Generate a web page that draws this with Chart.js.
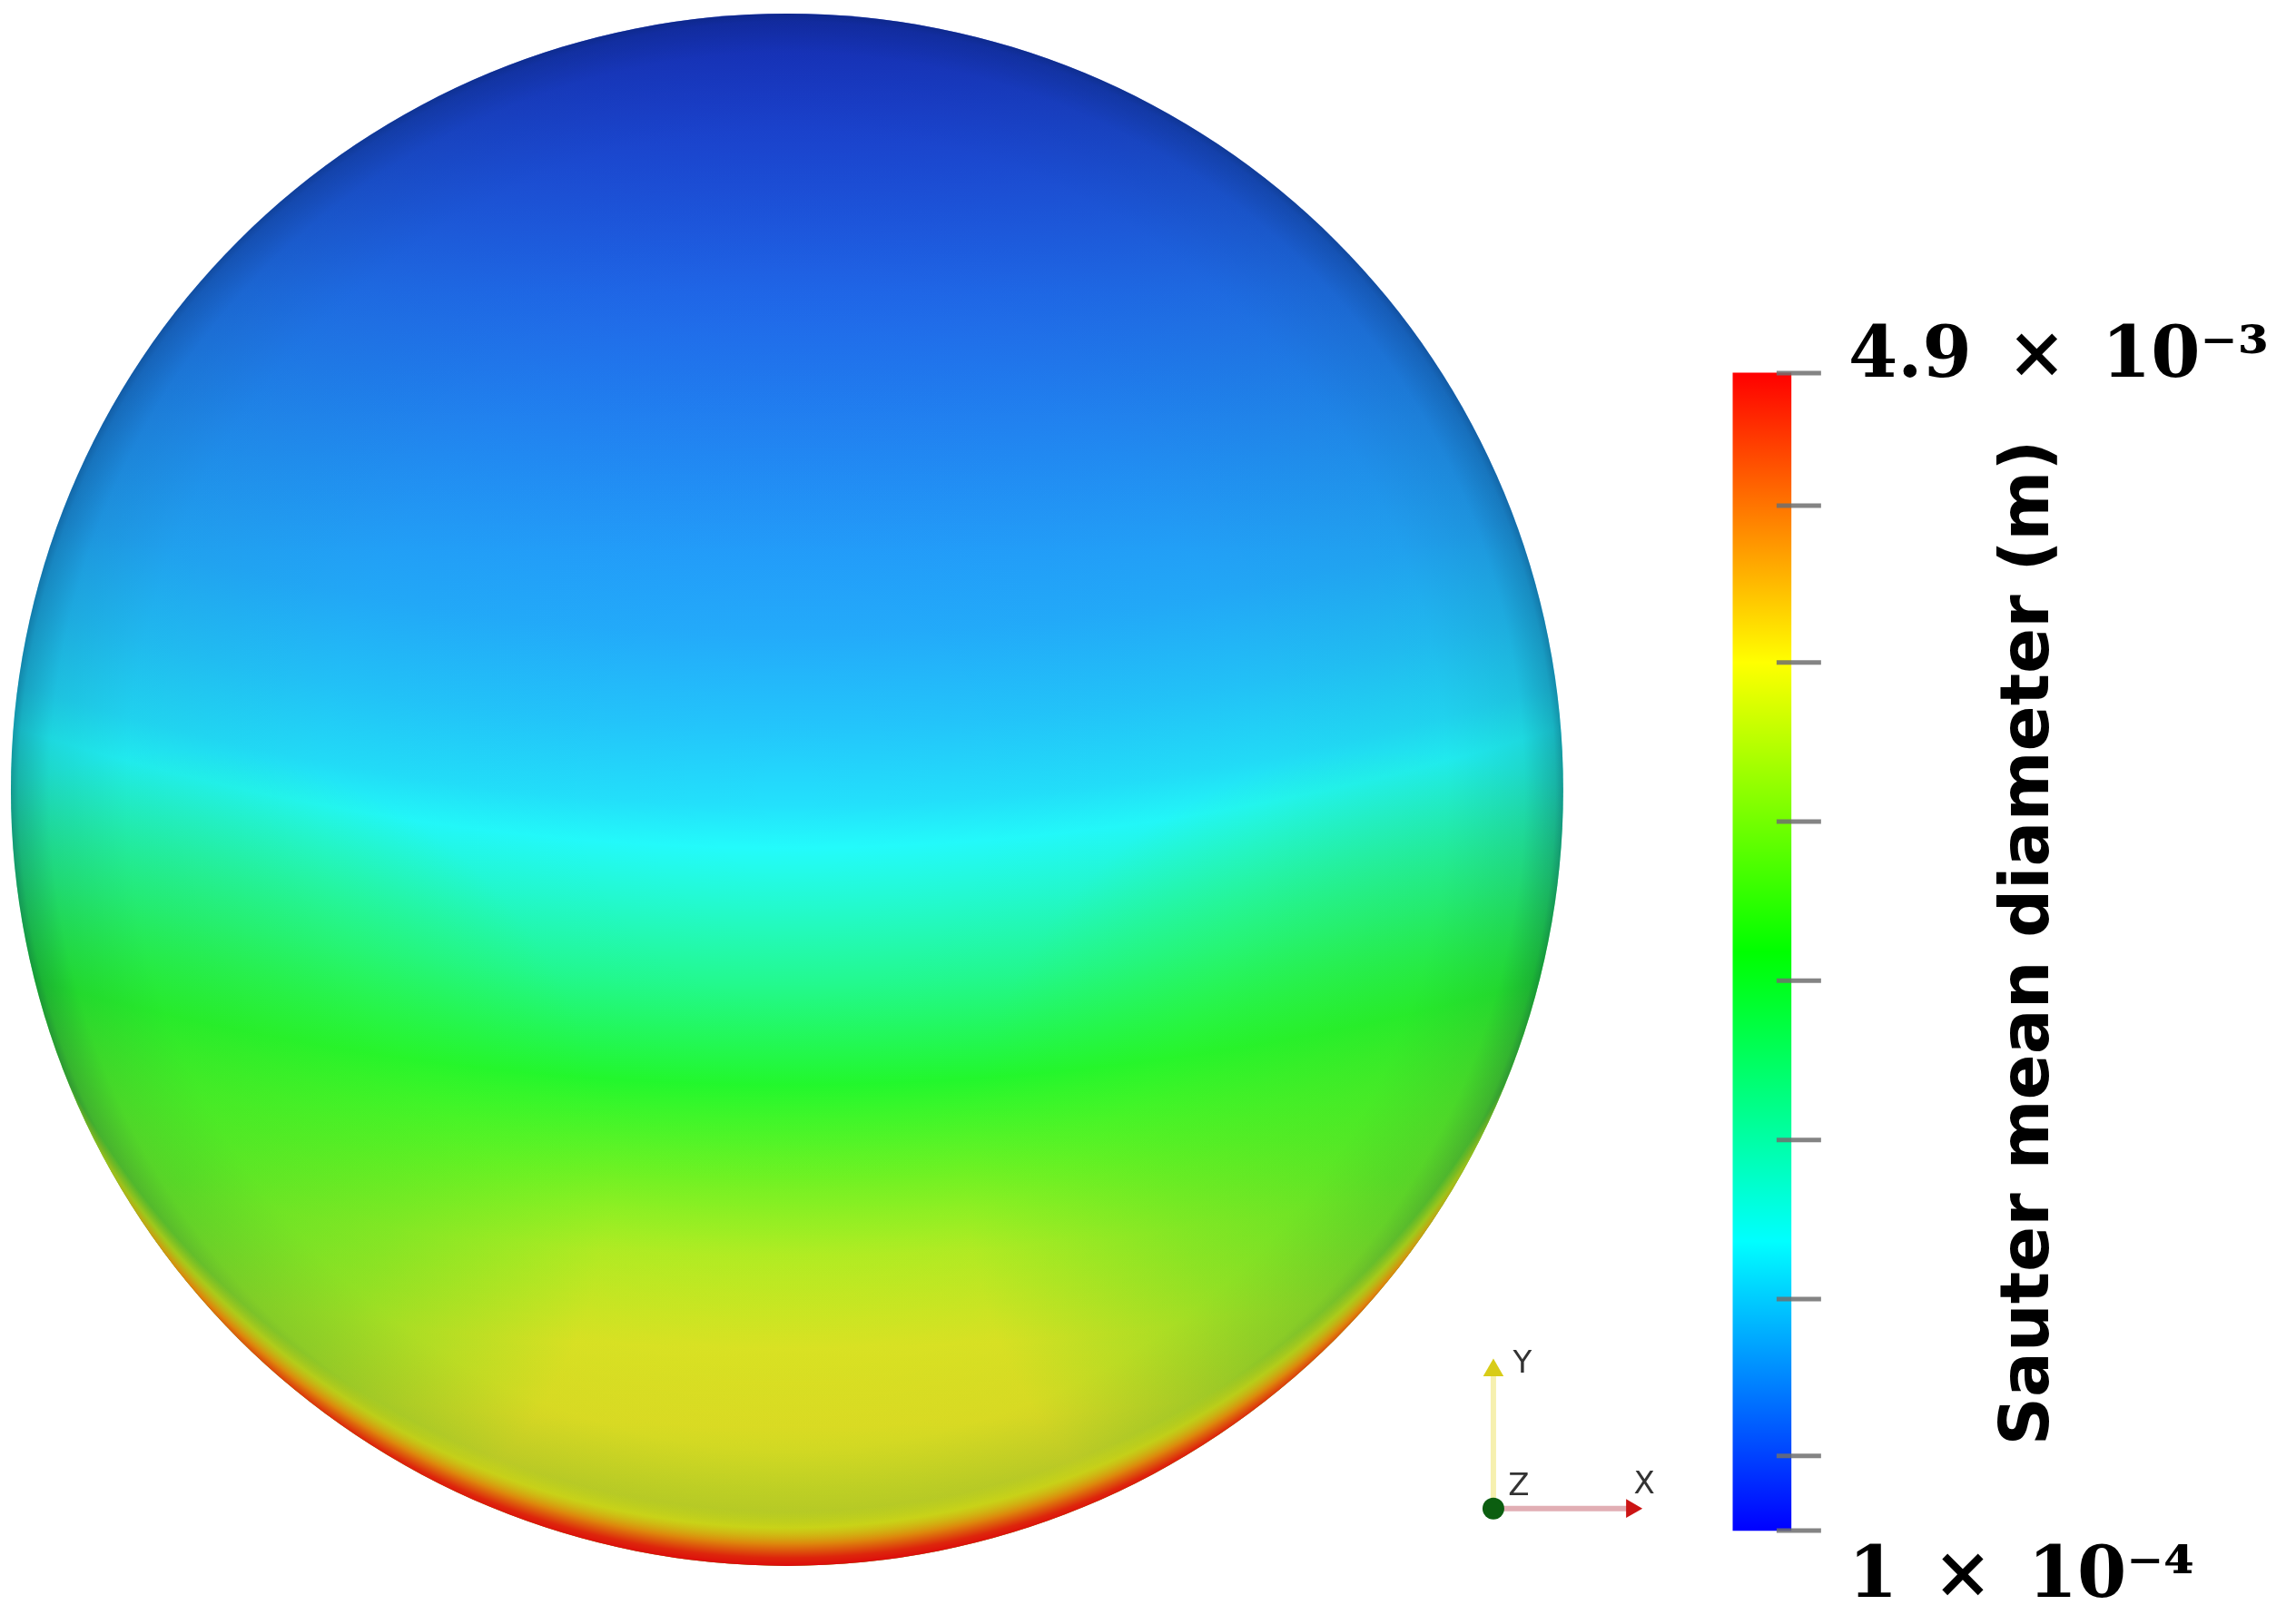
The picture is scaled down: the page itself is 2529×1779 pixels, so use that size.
<!DOCTYPE html>
<html>
<head>
<meta charset="utf-8">
<title>Sauter mean diameter</title>
<script src="https://cdn.jsdelivr.net/npm/chart.js@4.4.1/dist/chart.umd.min.js"></script>
<style>
  html, body { margin: 0; padding: 0; background: #fff; }
  #chart { display: block; }
</style>
</head>
<body>
<canvas id="chart" width="2529" height="1779"></canvas>
<script>
// Sauter mean diameter, in 1e-3 m
var dMin = 0.1, dMax = 4.9;

// colour map of the bar: fraction of the range -> colour
var cmapStops = [0, 0.25, 0.5, 0.75, 1];
var cmapColors = ['#0000ff', '#00ffff', '#00ff00', '#ffff00', '#ff0000'];

// colour bar tick marks and end labels
var cbTicks = [0.1, 0.41, 1.06, 1.72, 2.38, 3.04, 3.70, 4.35, 4.9];
var cbLabelValues = [4.9, 0.1];
var cbLabels = ['4.9\u2002×\u200210⁻³', '1\u2002×\u200210⁻⁴'];
var cbTitle = 'Sauter mean diameter (m)';

// value down the middle of the sphere, from the top (1) to the bottom (-1)
var sphereHeight = [1, 0.78, 0.55, 0.36, 0.2, 0.08, -0.02, -0.075, -0.15, -0.25, -0.38, -0.5, -0.6, -0.72, -0.82, -0.9, -1];
var sphereDiam = [0.25, 0.42, 0.6, 0.74, 0.86, 1.0, 1.15, 1.3, 1.55, 1.9, 2.45, 2.95, 3.35, 3.65, 3.7, 3.6, 3.55];

// lower values on the two lower flanks
var flankX = [-0.78, 0.78];
var flankH = [-0.5, -0.5];
var flankDiam = [2.6, 2.6];

// value across the bottom rim, from the edge inwards
var rimDepth = [0, 0.15, 0.4, 0.7, 1];
var rimDiam = [4.9, 4.75, 4.2, 3.7, 3.6];

// orientation triad
var triadNames = ['X', 'Y', 'Z'];
var triadDX = [1, 0, 0];
var triadDY = [0, 1, 0];

// ---- layout / style ----
var triadO = { x: 0.91, y: -0.926 }, triadLen = 0.178;
var bandBend = 3.2;          // centre of the colour bands, in radii above the sphere
var rimDepthPx = 60, rimSpread = 0.05;
var flankSize = 0.55;
var cbBarX = 1.2561, cbTickX = 1.3035;
var cbLabelNudge = [0.06, -0.2];

function hexRgb(h) {
  return [parseInt(h.substr(1, 2), 16), parseInt(h.substr(3, 2), 16), parseInt(h.substr(5, 2), 16)];
}
function cmap(v) {
  var f = Math.max(0, Math.min(1, (v - dMin) / (dMax - dMin)));
  var i = 0;
  while (i < cmapStops.length - 2 && f > cmapStops[i + 1]) i++;
  var t = (f - cmapStops[i]) / (cmapStops[i + 1] - cmapStops[i]);
  var a = hexRgb(cmapColors[i]), b = hexRgb(cmapColors[i + 1]);
  return a.map(function (x, k) { return x + (b[k] - x) * t; });
}
function rgba(c, a, gain, lift) {
  gain = gain == null ? 1 : gain; lift = lift || 0;
  var o = c.map(function (x) { return Math.round(Math.min(255, x * gain + lift)); });
  return 'rgba(' + o.join(',') + ',' + (a == null ? 1 : a) + ')';
}

function geom(chart) {
  var xs = chart.scales.x, ys = chart.scales.y;
  if (!xs || !ys || !chart.chartArea) return null;
  var cx = xs.getPixelForValue(0), cy = ys.getPixelForValue(0);
  var r = xs.getPixelForValue(1) - cx;
  if (!isFinite(cx) || !isFinite(cy) || !isFinite(r) || r <= 0) return null;
  return { cx: cx, cy: cy, r: r };
}
function sphereRadius(ctx) { var g = geom(ctx.chart); return g ? g.r : 0; }

function baseFill(ctx) {
  var g = geom(ctx.chart);
  if (!g) return 'transparent';
  var k = bandBend * g.r;
  var grad = ctx.chart.ctx.createRadialGradient(g.cx, g.cy - k, k - g.r, g.cx, g.cy - k, k + g.r);
  sphereHeight.forEach(function (h, i) {
    grad.addColorStop((1 - h) / 2, rgba(cmap(sphereDiam[i]), 1, 0.85, 35));
  });
  return grad;
}
function flankFill(ctx) {
  var g = geom(ctx.chart);
  if (!g) return 'transparent';
  var i = ctx.dataIndex;
  var fx = ctx.chart.scales.x.getPixelForValue(flankX[i]);
  var fy = ctx.chart.scales.y.getPixelForValue(flankH[i]);
  var grad = ctx.chart.ctx.createRadialGradient(fx, fy, 0, fx, fy, flankSize * g.r);
  var c = cmap(flankDiam[i]);
  grad.addColorStop(0, rgba(c, 0.6, 0.85, 35));
  grad.addColorStop(0.5, rgba(c, 0.35, 0.85, 35));
  grad.addColorStop(1, rgba(c, 0, 0.85, 35));
  return grad;
}
function lightFill(ctx) {
  var g = geom(ctx.chart);
  if (!g) return 'transparent';
  var grad = ctx.chart.ctx.createLinearGradient(0, g.cy - g.r, 0, g.cy + g.r);
  grad.addColorStop(0, 'rgba(0,10,60,0.28)');
  grad.addColorStop(0.18, 'rgba(0,10,60,0.08)');
  grad.addColorStop(0.35, 'rgba(0,10,60,0)');
  grad.addColorStop(0.7, 'rgba(40,30,0,0)');
  grad.addColorStop(0.88, 'rgba(40,30,0,0.08)');
  grad.addColorStop(1, 'rgba(40,30,0,0.1)');
  return grad;
}
function shadeFill(ctx) {
  var g = geom(ctx.chart);
  if (!g) return 'transparent';
  var grad = ctx.chart.ctx.createRadialGradient(g.cx, g.cy, 0, g.cx, g.cy, g.r);
  [[0, 0], [0.6, 0.03], [0.85, 0.08], [0.95, 0.16], [0.99, 0.32], [1, 0.45]].forEach(function (s) {
    grad.addColorStop(s[0], 'rgba(0,30,70,' + s[1] + ')');
  });
  return grad;
}
function rimFill(ctx) {
  var g = geom(ctx.chart);
  if (!g) return 'transparent';
  var e = rimSpread * g.r, R = g.r + e;
  var grad = ctx.chart.ctx.createRadialGradient(g.cx, g.cy - e, R, g.cx, g.cy - e - rimDepthPx, R);
  rimDepth.forEach(function (t, i) {
    var a = i === rimDepth.length - 1 ? 0 : (i === rimDepth.length - 2 ? 0.55 : 1);
    grad.addColorStop(t, rgba(cmap(rimDiam[i]), a, 0.82, 12));
  });
  return grad;
}
function cbFill(ctx) {
  var chart = ctx.chart, cb = chart.scales.cb;
  if (!cb || !chart.chartArea) return 'transparent';
  var y0 = cb.getPixelForValue(dMin), y1 = cb.getPixelForValue(dMax);
  if (!isFinite(y0) || !isFinite(y1)) return 'transparent';
  var grad = chart.ctx.createLinearGradient(0, y0, 0, y1);
  cmapStops.forEach(function (s, i) { grad.addColorStop(s, cmapColors[i]); });
  return grad;
}

function triadLine(i) {
  return [{ x: triadO.x, y: triadO.y }, { x: triadO.x + triadDX[i] * triadLen, y: triadO.y + triadDY[i] * triadLen }];
}

var labelTicks = cbLabelValues.map(function (v, i) { return v + cbLabelNudge[i]; });
function labelIndex(v) {
  for (var i = 0; i < labelTicks.length; i++) if (Math.abs(v - labelTicks[i]) < 1e-9) return i;
  return -1;
}

var textPlugin = {
  id: 'texts',
  afterDraw: function (chart) {
    var c = chart.ctx, cb = chart.scales.cb, xs = chart.scales.x, ys = chart.scales.y;
    c.save();
    c.fillStyle = '#000';
    c.font = 'bold 74px "DejaVu Sans"';
    c.textAlign = 'center';
    c.textBaseline = 'middle';
    c.translate(cb.left + 280, (cb.getPixelForValue(dMin) + cb.getPixelForValue(dMax)) / 2 - 10);
    c.rotate(-Math.PI / 2);
    c.fillText(cbTitle, 0, 0);
    c.restore();

    c.save();
    c.fillStyle = '#333';
    c.font = '34px "DejaVu Sans"';
    c.textAlign = 'center';
    c.textBaseline = 'middle';
    var offs = [[14, -26], [32, -6], [28, -24]];
    triadNames.forEach(function (n, i) {
      var px = xs.getPixelForValue(triadO.x + triadDX[i] * triadLen);
      var py = ys.getPixelForValue(triadO.y + triadDY[i] * triadLen);
      c.fillText(n, px + offs[i][0], py + offs[i][1]);
    });
    c.restore();
  }
};

var sphereCentre = [{ x: 0, y: 0 }];

new Chart(document.getElementById('chart'), {
  type: 'scatter',
  data: {
    datasets: [
      {
        type: 'scatter', data: [{ x: triadO.x, y: triadO.y }], order: 0,
        pointRadius: 12, pointBackgroundColor: '#0b5e10', pointBorderWidth: 0
      },
      {
        type: 'line', data: triadLine(0), order: 1,
        borderColor: 'rgba(205,120,130,0.6)', borderWidth: 6,
        pointRadius: [0, 12], pointStyle: 'triangle', pointRotation: [0, 90],
        pointBackgroundColor: '#cc1414', pointBorderWidth: 0
      },
      {
        type: 'line', data: triadLine(1), order: 1,
        borderColor: 'rgba(238,228,110,0.55)', borderWidth: 6,
        pointRadius: [0, 13], pointStyle: 'triangle',
        pointBackgroundColor: '#d8cc18', pointBorderWidth: 0
      },
      {
        // colour bar tick marks
        type: 'scatter', yAxisID: 'cb', indexAxis: 'y', order: 0, clip: false,
        data: cbTicks.map(function (v) { return { x: cbTickX, y: v }; }),
        pointStyle: 'line', pointRadius: 24.5,
        pointBorderColor: 'rgba(110,110,110,0.85)', pointBorderWidth: 5
      },
      {
        type: 'scatter', data: sphereCentre, order: 3,
        pointRadius: sphereRadius, pointBackgroundColor: rimFill, pointBorderWidth: 0
      },
      {
        type: 'scatter', data: sphereCentre, order: 4,
        pointRadius: sphereRadius, pointBackgroundColor: shadeFill, pointBorderWidth: 0
      },
      {
        type: 'scatter', data: sphereCentre, order: 5,
        pointRadius: sphereRadius, pointBackgroundColor: lightFill, pointBorderWidth: 0
      },
      {
        type: 'scatter', data: flankX.map(function () { return { x: 0, y: 0 }; }), order: 6,
        pointRadius: sphereRadius, pointBackgroundColor: flankFill, pointBorderWidth: 0
      },
      {
        type: 'scatter', data: sphereCentre, order: 7,
        pointRadius: sphereRadius, pointBackgroundColor: baseFill, pointBorderWidth: 0
      },
      {
        type: 'bar', yAxisID: 'cb', order: 8, clip: false,
        data: [{ x: cbBarX, y: [dMin, dMax] }],
        barThickness: 64, backgroundColor: cbFill, borderWidth: 0
      }
    ]
  },
  options: {
    responsive: false,
    animation: false,
    events: [],
    devicePixelRatio: 1,
    layout: { padding: 0, autoPadding: false },
    plugins: { legend: { display: false }, tooltip: { enabled: false } },
    scales: {
      x: { type: 'linear', display: false, offset: false, grid: { offset: false }, min: -1.014, max: 1.275 },
      y: { type: 'linear', display: false, offset: false, min: -1.0632, max: 1.0175 },
      cb: {
        type: 'linear', position: 'right', offset: false, min: -0.25, max: 6.447,
        afterBuildTicks: function (scale) {
          scale.ticks = labelTicks.map(function (v) { return { value: v }; });
        },
        afterFit: function (scale) {
          scale.width = 572;
          scale.paddingTop = 0;
          scale.paddingBottom = 0;
        },
        border: { display: false },
        grid: { display: false, drawTicks: false },
        ticks: {
          autoSkip: false, padding: 79, color: '#000',
          font: { family: 'DejaVu Serif', size: 78, weight: 'bold' },
          callback: function (v) {
            var i = labelIndex(v);
            return i >= 0 ? cbLabels[i] : null;
          }
        }
      }
    }
  },
  plugins: [textPlugin]
});
</script>
</body>
</html>
